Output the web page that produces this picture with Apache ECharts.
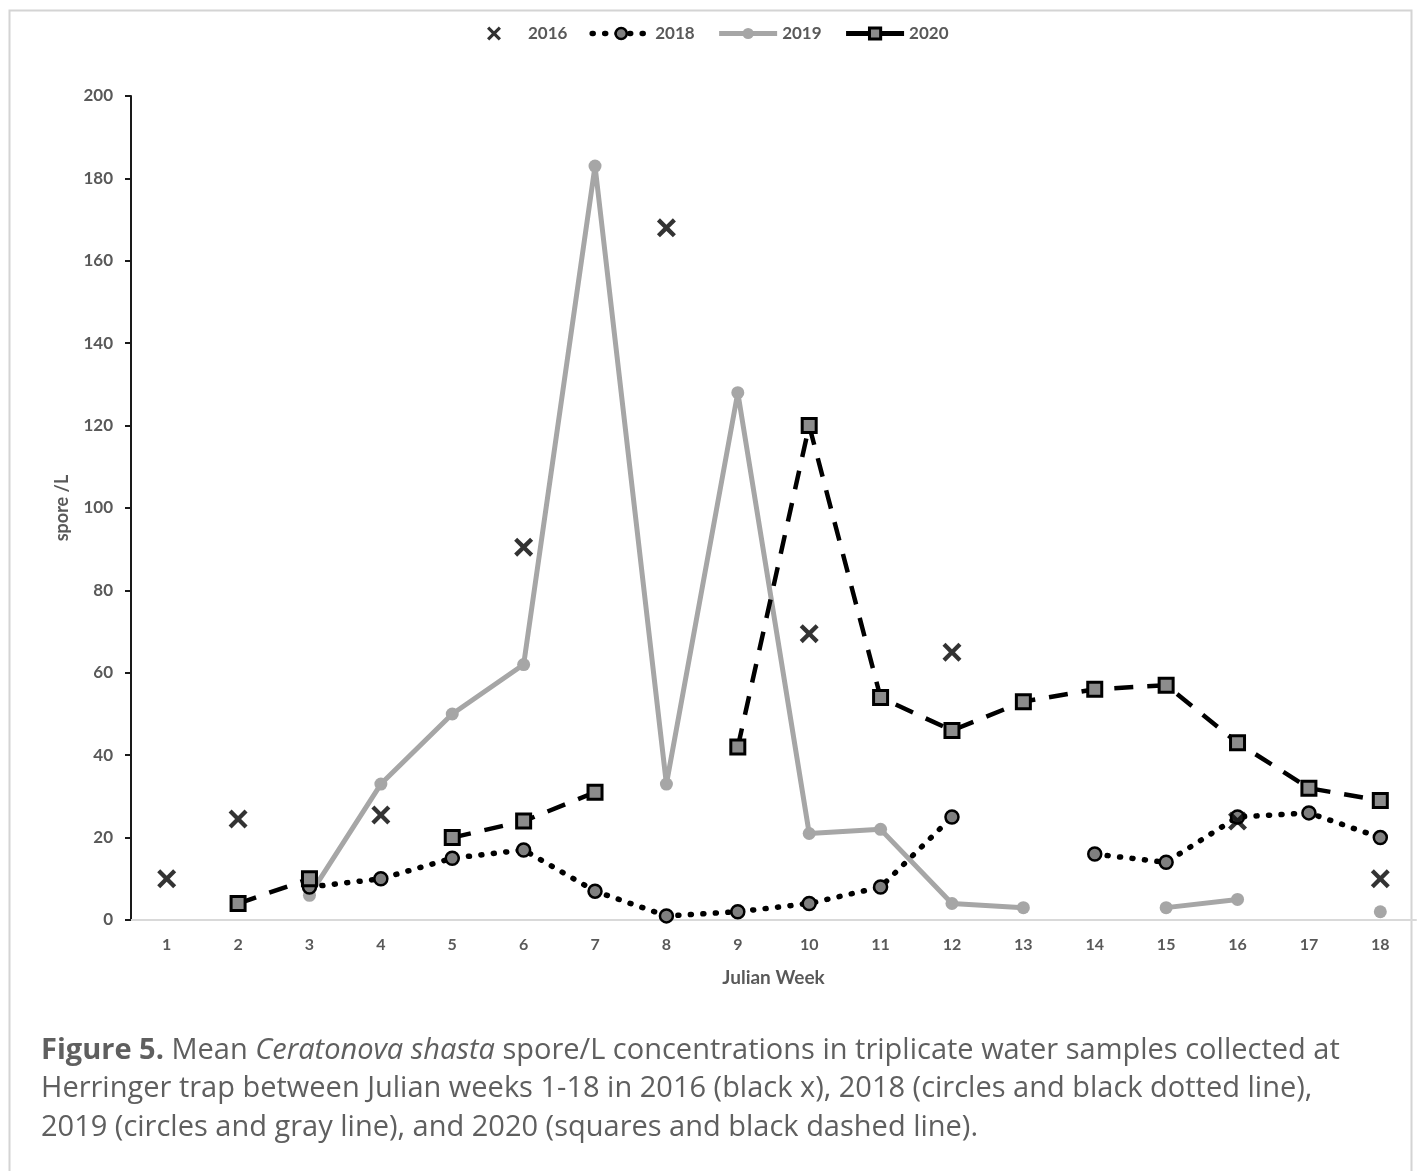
<!DOCTYPE html>
<html>
<head>
<meta charset="utf-8">
<title>Ceratonova shasta spore/L, Herringer trap</title>
<script src="https://cdn.jsdelivr.net/npm/echarts@6/dist/echarts.min.js"></script>
<style>
  html, body { margin: 0; padding: 0; background: #ffffff; }
  #chart { width: 1418px; height: 1171px; }
</style>
</head>
<body>
<div id="chart"></div>
<script>
// Julian weeks on the x axis
const weeks = ['1','2','3','4','5','6','7','8','9','10','11','12','13','14','15','16','17','18'];

// Mean spore/L per week (null = no sample that week)
const y2016 = [10, 24.5, null, 25.5, null, 90.5, null, 168, null, 69.5, null, 65, null, null, null, 24, null, 10];
const y2018 = [null, null, 8, 10, 15, 17, 7, 1, 2, 4, 8, 25, null, 16, 14, 25, 26, 20];
const y2019 = [null, null, 6, 33, 50, 62, 183, 33, 128, 21, 22, 4, 3, null, 3, 5, null, 2];
const y2020 = [null, 4, 10, null, 20, 24, 31, null, 42, 120, 54, 46, 53, 56, 57, 43, 32, 29];

const yTicks = { min: 0, max: 200, interval: 20 };

// "x" mark drawn as a filled outline so it renders like a stroked cross
const crossPath = 'path://M0,1.6L1.6,0L5,3.4L8.4,0L10,1.6L6.6,5L10,8.4L8.4,10L5,6.6L1.6,10L0,8.4L3.4,5Z';

const textGray = '#595959';
const chartFont = 'Lato';
const captionFont = 'Open Sans';

// per-series styles, shared by the series and their legend entries
const style2018 = {
  item: { color: '#7f7f7f', borderColor: '#000000', borderWidth: 2.5 },
  line: { color: '#000000', width: 5.5, type: [1, 11.5], cap: 'round' }
};
const style2019 = {
  item: { color: '#a6a6a6', borderWidth: 0 },
  line: { color: '#a6a6a6', width: 5 }
};
const style2020 = {
  item: { color: '#8c8c8c', borderColor: '#000000', borderWidth: 3 },
  line: { color: '#000000', width: 4.5, type: [19, 14] }
};

const chart = echarts.init(document.getElementById('chart'), null, { renderer: 'canvas' });

chart.setOption({
  backgroundColor: '#ffffff',
  animation: false,
  textStyle: { fontFamily: chartFont },
  graphic: [
    {
      type: 'rect',
      z: -10,
      shape: { x: 9.5, y: 10.5, width: 1402, height: 1200 },
      style: { fill: 'none', stroke: '#d4d4d4', lineWidth: 2 }
    },
    {
      type: 'text',
      left: 41,
      top: 1031,
      style: {
        text: '{b|Figure 5.} Mean {i|Ceratonova shasta} spore/L concentrations in triplicate water samples collected at\n' +
              'Herringer trap between Julian weeks 1-18 in 2016 (black x), 2018 (circles and black dotted line),\n' +
              '2019 (circles and gray line), and 2020 (squares and black dashed line).',
        font: '29px "' + captionFont + '"',
        fill: '#5f5f5f',
        lineHeight: 38.5,
        rich: {
          b: { fontWeight: 'bold', fontFamily: captionFont, fontSize: 29, fill: '#5f5f5f', lineHeight: 38.5 },
          i: { fontStyle: 'italic', fontFamily: captionFont, fontSize: 29, fill: '#5f5f5f', lineHeight: 38.5 }
        }
      }
    }
  ],
  legend: {
    top: 20,
    left: 482,
    data: [
      { name: '2016' },
      { name: '2018', lineStyle: style2018.line, itemStyle: style2018.item },
      { name: '2019', lineStyle: style2019.line, itemStyle: style2019.item },
      { name: '2020', lineStyle: { color: '#000000', width: 5, type: 'solid' }, itemStyle: style2020.item }
    ],
    itemWidth: 58,
    itemHeight: 14,
    itemGap: 22,
    textStyle: { color: textGray, fontSize: 17, fontWeight: 'bold', fontFamily: chartFont }
  },
  grid: { left: 131, right: 2, top: 96, bottom: 251, containLabel: false },
  xAxis: {
    type: 'category',
    data: weeks,
    boundaryGap: true,
    name: 'Julian Week',
    nameLocation: 'middle',
    nameGap: 48,
    nameTextStyle: { color: textGray, fontSize: 19, fontWeight: 'bold' },
    axisLine: { lineStyle: { color: '#d9d9d9', width: 2 } },
    axisTick: { show: false },
    axisLabel: { color: textGray, fontSize: 16, fontWeight: 'bold', margin: 17 },
    splitLine: { show: false }
  },
  yAxis: {
    type: 'value',
    min: yTicks.min,
    max: yTicks.max,
    interval: yTicks.interval,
    name: 'spore /L',
    nameLocation: 'middle',
    nameGap: 60,
    nameTextStyle: { color: textGray, fontSize: 18, fontWeight: 'bold' },
    axisLine: { show: true, lineStyle: { color: '#1a1a1a', width: 2 } },
    axisTick: { show: true, length: 6, lineStyle: { color: '#1a1a1a', width: 2 } },
    axisLabel: { color: textGray, fontSize: 17, fontWeight: 'bold', margin: 18 },
    splitLine: { show: false }
  },
  series: [
    {
      name: '2016',
      type: 'scatter',
      data: y2016,
      symbol: crossPath,
      symbolSize: 19,
      itemStyle: { color: '#000000' },
      z: 5
    },
    {
      name: '2019',
      type: 'line',
      data: y2019,
      symbol: 'circle',
      symbolSize: 13,
      showSymbol: true,
      showAllSymbol: true,
      connectNulls: false,
      itemStyle: style2019.item,
      lineStyle: style2019.line,
      z: 2
    },
    {
      name: '2018',
      type: 'line',
      data: y2018,
      symbol: 'circle',
      symbolSize: 13,
      showSymbol: true,
      showAllSymbol: true,
      connectNulls: false,
      itemStyle: style2018.item,
      lineStyle: style2018.line,
      z: 3
    },
    {
      name: '2020',
      type: 'line',
      data: y2020,
      symbol: 'rect',
      symbolSize: 14,
      showSymbol: true,
      showAllSymbol: true,
      connectNulls: false,
      itemStyle: style2020.item,
      lineStyle: style2020.line,
      z: 4
    }
  ]
});
</script>
</body>
</html>
